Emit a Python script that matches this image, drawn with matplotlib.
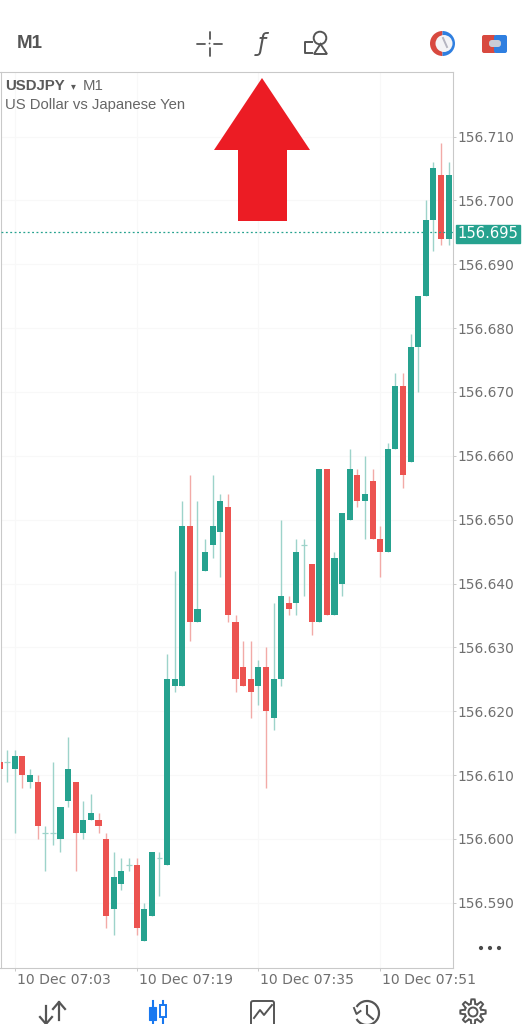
import numpy as np
import matplotlib
matplotlib.use("Agg")
import matplotlib.pyplot as plt
from matplotlib.patches import Arc, Circle, FancyBboxPatch, Polygon, Rectangle, Wedge
from matplotlib.transforms import ScaledTranslation

W, H = 526, 1024
GREEN = "#26a28f"
RED = "#ec5350"
GREEN_WICK = "#9dd3ca"
RED_WICK = "#f2aaa7"
GREY = "#6f6f6f"
ICON = "#555555"

# prices as thousandths above BASE, first candle is two minutes before 07:03
BASE = 156.6
first_index = -2
opens = [12, 12, 11, 13, 9, 9, 1, 1, 0, 6, 9, 1, 3, 3, 0, -11, -7, -4, -4, -16,
         -12, -3, -4, 24, 24, 49, 34, 42, 46, 48, 52, 34, 27, 25, 24, 27, 19, 25,
         37, 37, 46, 43, 34, 58, 35, 40, 50, 57, 53, 56, 47, 45, 61, 71, 59, 77,
         85, 97, 104, 94]
highs = [13, 14, 14, 13, 11, 10, 2, 12, 5, 16, 9, 6, 7, 4, 1, -2, -3, -3, -3, -10,
         -2, -2, 29, 42, 53, 57, 53, 47, 57, 54, 54, 35, 31, 31, 28, 30, 37, 50,
         38, 47, 47, 43, 58, 58, 45, 51, 61, 58, 60, 58, 49, 62, 73, 73, 79, 85,
         100, 106, 109, 106]
lows = [11, 9, 1, 8, 8, 0, -5, -1, -2, 5, -5, 0, 3, 1, -14, -15, -8, -5, -15, -16,
        -12, -9, -4, 23, 24, 31, 34, 42, 44, 41, 34, 23, 24, 19, 21, 8, 17, 24,
        35, 35, 38, 32, 34, 35, 35, 38, 50, 52, 47, 47, 41, 45, 61, 55, 59, 70,
        85, 92, 93, 93]
closes = [11, 12, 13, 10, 10, 2, 1, 1, 5, 11, 1, 3, 4, 2, -12, -6, -5, -4, -14, -11,
          -2, -3, 25, 25, 49, 34, 36, 45, 49, 53, 35, 25, 24, 23, 27, 20, 25, 38,
          36, 45, 46, 34, 58, 35, 44, 51, 58, 53, 54, 47, 45, 61, 71, 57, 77, 85,
          97, 105, 94, 104]

last_price = 156.695
price_ticks = [156.59, 156.60, 156.61, 156.62, 156.63, 156.64, 156.65, 156.66,
               156.67, 156.68, 156.69, 156.70, 156.71]
time_ticks = [0, 16, 32, 48]
time_labels = ["10 Dec 07:03", "10 Dec 07:19", "10 Dec 07:35", "10 Dec 07:51"]


def price(v):
    return BASE + v / 1000


fig = plt.figure(figsize=(W / 100, H / 100), dpi=100, facecolor="white")
ax = fig.add_axes([0.5 / W, 1 - 968 / H, 452.5 / W, (968 - 72) / H])
ax.set_xlim(-1.88, 57.57)
ax.set_ylim(156.5798, 156.7201)

for i in range(len(opens)):
    x = first_index + i
    o, h, l, c = opens[i], highs[i], lows[i], closes[i]
    up = c >= o
    ax.vlines(x, price(l), price(h), color=GREEN_WICK if up else RED_WICK, lw=1.0, zorder=2)
    if o == c:
        ax.hlines(price(o), x - 0.38, x + 0.38, color=GREEN_WICK, lw=0.9, zorder=2)
    else:
        ax.bar(x, price(abs(c - o)) - BASE, bottom=price(min(o, c)), width=0.8,
               color=GREEN if up else RED, zorder=3)

ax.axhline(last_price, color=GREEN, lw=0.9, ls=(0, (1.5, 2)), zorder=4)

ax.set_xticks(time_ticks)
ax.set_xticklabels(time_labels, ha="left", color=GREY, fontsize=10.1)
ax.yaxis.tick_right()
ax.set_yticks(price_ticks)
ax.set_yticklabels([f"{p:.3f}" for p in price_ticks], color=GREY, fontsize=9.9, va="center_baseline")
ax.tick_params(axis="y", length=2, width=0.7, color="#c8c8c8", pad=1.5)
ax.tick_params(axis="x", length=2, width=0.7, color="#c8c8c8", pad=1.5)
# x labels start a little to the right of their tick
nudge = ScaledTranslation(2 / 100, 0, fig.dpi_scale_trans)
for lab in ax.get_xticklabels():
    lab.set_transform(lab.get_transform() + nudge)
ax.grid(True, color="#f8f8f8", lw=0.8)
ax.set_axisbelow(True)
for s in ax.spines.values():
    s.set_color("#c9c9c9")
    s.set_linewidth(0.8)

ax.annotate(f"{last_price:.3f}", xy=(1, last_price), xycoords=ax.get_yaxis_transform(),
            xytext=(3.2, 0), textcoords="offset points", va="center_baseline", ha="left",
            color="white", fontsize=10.6,
            bbox=dict(boxstyle="square,pad=0.12", fc=GREEN, ec=GREEN), zorder=6,
            annotation_clip=False)

# overlay in screen pixels for the app chrome
ui = fig.add_axes([0, 0, 1, 1], zorder=10)
ui.set_xlim(0, W)
ui.set_ylim(H, 0)
ui.axis("off")
ui.patch.set_alpha(0)

sans = "Liberation Sans"
ui.text(17, 43, "M1", family=sans, weight="bold", fontsize=13.5, color="#555555", va="center")
ui.text(5, 85.5, "USDJPY", family=sans, weight="bold", fontsize=10.8, color="#5a5a5a", va="center")
ui.text(71, 86, "▾", family="DejaVu Sans", fontsize=7, color="#5a5a5a", va="center")
ui.text(83, 85.5, "M1", family=sans, fontsize=10.8, color="#666666", va="center")
ui.text(5, 104.5, "US Dollar vs Japanese Yen", family=sans, fontsize=10.75, color="#666666", va="center")

# red arrow
ui.add_patch(Polygon([(262, 78), (310, 150), (287, 150), (287, 221), (238, 221), (238, 150), (214, 150)],
                     closed=True, fc="#ec1c24", ec="none", zorder=8))

# crosshair
for x0, y0, x1, y1 in [(197, 43.5, 205, 43.5), (214, 43.5, 222, 43.5), (209.5, 32, 209.5, 39), (209.5, 48, 209.5, 56)]:
    ui.plot([x0, x1], [y0, y1], color=ICON, lw=1.3, solid_capstyle="round")
ui.add_patch(Circle((209.5, 43.5), 0.9, fc=ICON, ec="none"))
# function icon
ui.text(262, 44, "ƒ", family="DejaVu Sans", style="italic", fontsize=17, color=ICON, ha="center", va="center")
# objects icon
ui.plot([312, 305, 305, 312], [42, 42, 53, 53], color=ICON, lw=1.4)
ui.add_patch(Circle((320, 38), 6.3, fc="none", ec=ICON, lw=1.4))
ui.add_patch(Polygon([(314, 54), (320.5, 44), (327, 54)], closed=True, fc="none", ec=ICON, lw=1.4))

# one click trading and depth icons
ui.add_patch(Wedge((442.5, 43.5), 12.5, 90, 270, fc="#d8493f", ec="none"))
ui.add_patch(Wedge((442.5, 43.5), 12.5, 270, 90, fc="#2f7fe0", ec="none"))
ui.add_patch(Circle((444, 43.5), 8.5, fc="#f4f4f6", ec="none"))
ui.plot([443, 447], [38, 47], color="#b5b5c0", lw=1.4)
ui.add_patch(FancyBboxPatch((482, 35), 14, 18, boxstyle="round,pad=0,rounding_size=2", fc="#d8493f", ec="none"))
ui.add_patch(FancyBboxPatch((494, 35), 13, 18, boxstyle="round,pad=0,rounding_size=2", fc="#2f7fe0", ec="none"))
ui.add_patch(FancyBboxPatch((489, 40), 12, 7, boxstyle="round,pad=0,rounding_size=3", fc="#c9ccd6", ec="none"))

# three dots
for x in [481, 490, 499]:
    ui.add_patch(Circle((x, 948), 2.1, fc="#4c4c4c", ec="none"))

# bottom bar: trade arrows
ui.plot([46, 46], [1006, 1024], color=ICON, lw=1.6)
ui.plot([40, 46, 52], [1017, 1024, 1017], color=ICON, lw=1.6)
ui.plot([59, 59], [1002, 1020], color=ICON, lw=1.6)
ui.plot([53, 59, 65], [1009, 1002, 1009], color=ICON, lw=1.6)
# bottom bar: candles
ui.plot([152.5, 152.5], [1001, 1024], color="#1878f0", lw=1.5)
ui.add_patch(Rectangle((149, 1007), 7, 13, fc="#1878f0", ec="#1878f0", lw=0.8, zorder=5))
ui.plot([162.5, 162.5], [1001, 1024], color="#1878f0", lw=1.5)
ui.add_patch(Rectangle((159.5, 1005), 6, 12, fc="white", ec="#1878f0", lw=1.4, zorder=5))
# bottom bar: chart
ui.add_patch(FancyBboxPatch((251, 1001), 23, 30, boxstyle="round,pad=0,rounding_size=2", fc="none", ec=ICON, lw=1.4))
ui.plot([254, 260, 264, 272], [1018, 1010, 1015, 1005], color=ICON, lw=1.4)
# bottom bar: history clock
ui.add_patch(Arc((367, 1013), 24, 24, theta1=-150, theta2=150, ec=ICON, lw=1.6))
ui.plot([354, 356.5, 360.5], [1008, 1014, 1011], color=ICON, lw=1.4)
ui.plot([367, 367, 373], [1006, 1014, 1019], color=ICON, lw=1.5)
# bottom bar: settings gear
ang = np.linspace(0, 2 * np.pi, 97)
rad = 10.5 + 2.2 * np.clip(3 * np.cos(8 * ang), -1, 1)
ui.add_patch(Polygon(np.c_[473 + rad * np.cos(ang), 1012 + rad * np.sin(ang)], closed=True, fc="none", ec=ICON, lw=1.4))
ui.add_patch(Circle((473, 1012), 4.5, fc="none", ec=ICON, lw=1.4))

fig.savefig("out.png", dpi=100, facecolor="white")
